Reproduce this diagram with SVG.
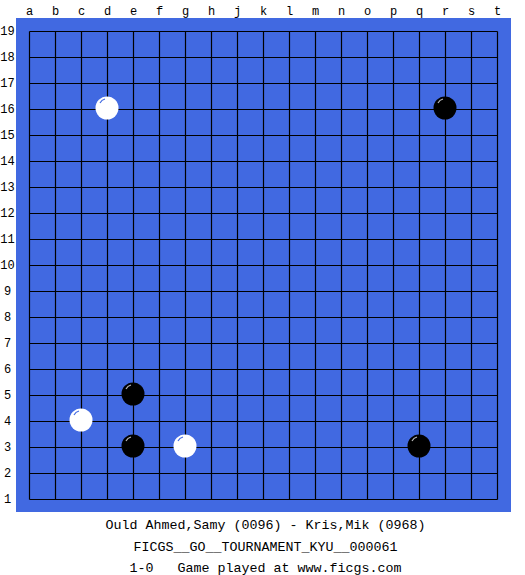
<svg xmlns="http://www.w3.org/2000/svg" width="525" height="575" viewBox="0 0 525 575">
<style>
.lbl{font-family:"Liberation Mono","DejaVu Sans Mono",monospace;font-size:12px;fill:#000;text-anchor:middle}
.cap{font-family:"Liberation Mono","DejaVu Sans Mono",monospace;font-size:13.33px;fill:#000;text-anchor:middle}
.grid line{stroke:#000;stroke-width:1.2}
.blk{fill:#000}
.wht{fill:#fff}
.hlb{fill:none;stroke:#bbbbbb;stroke-width:1.2}
.hlw{fill:none;stroke:#4169e1;stroke-width:1.2}
</style>
<rect width="525" height="575" fill="#fff"/>
<rect x="16" y="18" width="495" height="494" fill="#4169e1"/>
<g id="labels">
<g class="lbl">
<text x="29.5" y="15">a</text><text x="55.5" y="15">b</text><text x="81.5" y="15">c</text><text x="107.5" y="15">d</text><text x="133.5" y="15">e</text><text x="159.5" y="15">f</text><text x="185.5" y="15">g</text><text x="211.5" y="15">h</text><text x="237.5" y="15">j</text><text x="263.5" y="15">k</text><text x="289.5" y="15">l</text><text x="315.5" y="15">m</text><text x="341.5" y="15">n</text><text x="367.5" y="15">o</text><text x="393.5" y="15">p</text><text x="419.5" y="15">q</text><text x="445.5" y="15">r</text><text x="471.5" y="15">s</text><text x="497.5" y="15">t</text>
<text x="7.5" y="35">19</text><text x="7.5" y="61">18</text><text x="7.5" y="87">17</text><text x="7.5" y="113">16</text><text x="7.5" y="139">15</text><text x="7.5" y="165">14</text><text x="7.5" y="191">13</text><text x="7.5" y="217">12</text><text x="7.5" y="243">11</text><text x="7.5" y="269">10</text><text x="7.5" y="295">9</text><text x="7.5" y="321">8</text><text x="7.5" y="347">7</text><text x="7.5" y="373">6</text><text x="7.5" y="399">5</text><text x="7.5" y="425">4</text><text x="7.5" y="451">3</text><text x="7.5" y="477">2</text><text x="7.5" y="503">1</text>
</g>
</g>
<g id="grid" class="grid">
<line x1="29.5" y1="31.5" x2="29.5" y2="499.5"/><line x1="55.5" y1="31.5" x2="55.5" y2="499.5"/><line x1="81.5" y1="31.5" x2="81.5" y2="499.5"/><line x1="107.5" y1="31.5" x2="107.5" y2="499.5"/><line x1="133.5" y1="31.5" x2="133.5" y2="499.5"/><line x1="159.5" y1="31.5" x2="159.5" y2="499.5"/><line x1="185.5" y1="31.5" x2="185.5" y2="499.5"/><line x1="211.5" y1="31.5" x2="211.5" y2="499.5"/><line x1="237.5" y1="31.5" x2="237.5" y2="499.5"/><line x1="263.5" y1="31.5" x2="263.5" y2="499.5"/><line x1="289.5" y1="31.5" x2="289.5" y2="499.5"/><line x1="315.5" y1="31.5" x2="315.5" y2="499.5"/><line x1="341.5" y1="31.5" x2="341.5" y2="499.5"/><line x1="367.5" y1="31.5" x2="367.5" y2="499.5"/><line x1="393.5" y1="31.5" x2="393.5" y2="499.5"/><line x1="419.5" y1="31.5" x2="419.5" y2="499.5"/><line x1="445.5" y1="31.5" x2="445.5" y2="499.5"/><line x1="471.5" y1="31.5" x2="471.5" y2="499.5"/><line x1="497.5" y1="31.5" x2="497.5" y2="499.5"/>
<line x1="29.5" y1="31.5" x2="497.5" y2="31.5"/><line x1="29.5" y1="57.5" x2="497.5" y2="57.5"/><line x1="29.5" y1="83.5" x2="497.5" y2="83.5"/><line x1="29.5" y1="109.5" x2="497.5" y2="109.5"/><line x1="29.5" y1="135.5" x2="497.5" y2="135.5"/><line x1="29.5" y1="161.5" x2="497.5" y2="161.5"/><line x1="29.5" y1="187.5" x2="497.5" y2="187.5"/><line x1="29.5" y1="213.5" x2="497.5" y2="213.5"/><line x1="29.5" y1="239.5" x2="497.5" y2="239.5"/><line x1="29.5" y1="265.5" x2="497.5" y2="265.5"/><line x1="29.5" y1="291.5" x2="497.5" y2="291.5"/><line x1="29.5" y1="317.5" x2="497.5" y2="317.5"/><line x1="29.5" y1="343.5" x2="497.5" y2="343.5"/><line x1="29.5" y1="369.5" x2="497.5" y2="369.5"/><line x1="29.5" y1="395.5" x2="497.5" y2="395.5"/><line x1="29.5" y1="421.5" x2="497.5" y2="421.5"/><line x1="29.5" y1="447.5" x2="497.5" y2="447.5"/><line x1="29.5" y1="473.5" x2="497.5" y2="473.5"/><line x1="29.5" y1="499.5" x2="497.5" y2="499.5"/>
</g>
<g id="stones">
<g id="w-d16"><circle class="wht" cx="107" cy="108" r="11.5"/><path class="hlw" d="M100 103 A8 8 0 0 1 105 99"/></g>
<g id="b-r16"><circle class="blk" cx="445" cy="108" r="11.5"/><path class="hlb" d="M438 103 A8 8 0 0 1 443 99"/></g>
<g id="b-e5"><circle class="blk" cx="133" cy="394" r="11.5"/><path class="hlb" d="M126 389 A8 8 0 0 1 131 385"/></g>
<g id="w-c4"><circle class="wht" cx="81" cy="420" r="11.5"/><path class="hlw" d="M74 415 A8 8 0 0 1 79 411"/></g>
<g id="b-e3"><circle class="blk" cx="133" cy="446" r="11.5"/><path class="hlb" d="M126 441 A8 8 0 0 1 131 437"/></g>
<g id="w-g3"><circle class="wht" cx="185" cy="446" r="11.5"/><path class="hlw" d="M178 441 A8 8 0 0 1 183 437"/></g>
<g id="b-q3"><circle class="blk" cx="419" cy="446" r="11.5"/><path class="hlb" d="M412 441 A8 8 0 0 1 417 437"/></g>
</g>
<g id="caption" class="cap">
<text x="265.5" y="528.5">Ould Ahmed,Samy (0096) - Kris,Mik (0968)</text>
<text x="265.5" y="550.5">FICGS__GO__TOURNAMENT_KYU__000061</text>
<text x="265.5" y="571.5" xml:space="preserve">1-0   Game played at www.ficgs.com</text>
</g>
</svg>
